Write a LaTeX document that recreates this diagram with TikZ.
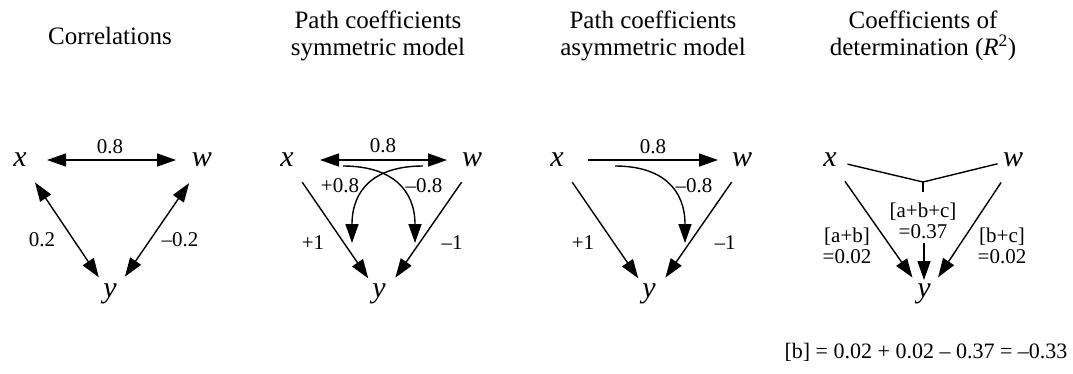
\documentclass[tikz,border=0pt]{standalone}
\usepackage{fontspec}
\setmainfont{Liberation Serif}
\usetikzlibrary{arrows.meta}
\begin{document}
\begin{tikzpicture}[x=1pt,y=-1pt,
  var/.style={font=\fontsize{30}{30}\selectfont\itshape, inner sep=0pt},
  lab/.style={font=\fontsize{21}{21}\selectfont, inner sep=0pt, align=center},
  ttl/.style={font=\fontsize{25}{27}\selectfont, align=center, inner sep=0pt},
  con/.style={line width=1.4pt},
  arr/.style={con, -{Triangle[length=19pt,width=13pt]}},
  darr/.style={con, {Triangle[length=19pt,width=13pt]}-{Triangle[length=19pt,width=13pt]}},
]
\useasboundingbox (0,0) rectangle (1073,373);

% titles
\node[ttl] (t1) at (110,36) {Correlations};
\node[ttl] (t2) at (378,36) {Path coefficients\\symmetric model};
\node[ttl] (t3) at (653,36) {Path coefficients\\asymmetric model};
\node[ttl] (t4) at (923,36) {Coefficients of\\determination (\textit{R}\textsuperscript{2})};

% panel 1
\node[var] (x1) at (20,160) {x};
\node[var] (w1) at (202,160) {w};
\node[var] (y1) at (110,294) {y};
\draw[darr, shorten <=27pt, shorten >=26pt] (x1.center) -- (w1.center);
\draw[darr, shorten <=27pt, shorten >=20pt] (x1.center) -- (y1.center);
\draw[darr, shorten <=28pt, shorten >=21pt] ([xshift=3pt]w1.center) -- ([xshift=3pt]y1.center);
\node[lab] (l1a) at (110,147) {0.8};
\node[lab] (l1b) at (42,240) {0.2};
\node[lab] (l1c) at (180,240) {–0.2};

% panel 2
\node[var] (x2) at (287,160) {x};
\node[var] (w2) at (472,160) {w};
\node[var] (y2) at (379,294) {y};
\draw[darr, shorten <=33pt, shorten >=25pt] (x2.center) -- (w2.center);
\draw[arr, shorten <=27pt, shorten >=19pt] (x2.center) -- (y2.center);
\draw[arr, shorten <=27pt, shorten >=20pt] ([xshift=5pt]w2.center) -- ([xshift=5pt]y2.center);
\coordinate (s2a) at (343,166);
\coordinate (e2a) at (415,243);
\coordinate (s2b) at (423,166);
\coordinate (e2b) at (352,243);
\draw[arr] (s2a) .. controls (392,166) and (415,190) .. (e2a);
\draw[arr] (s2b) .. controls (374,166) and (352,190) .. (e2b);
\node[lab] (l2a) at (383,146) {0.8};
\node[lab] (l2b) at (340,186) {+0.8};
\node[lab] (l2c) at (424,186) {–0.8};
\node[lab] (l2d) at (313,243) {+1};
\node[lab] (l2e) at (452,243) {–1};

% panel 3
\node[var] (x3) at (557,160) {x};
\node[var] (w3) at (742,160) {w};
\node[var] (y3) at (649,294) {y};
\draw[arr, shorten <=31pt, shorten >=24pt] (x3.center) -- (w3.center);
\draw[arr, shorten <=27pt, shorten >=19pt] (x3.center) -- (y3.center);
\draw[arr, shorten <=27pt, shorten >=20pt] ([xshift=5pt]w3.center) -- ([xshift=5pt]y3.center);
\coordinate (s3) at (615,166);
\coordinate (e3) at (685,243);
\draw[arr] (s3) .. controls (663,166) and (685,190) .. (e3);
\node[lab] (l3a) at (653,147) {0.8};
\node[lab] (l3b) at (694,186) {–0.8};
\node[lab] (l3c) at (583,243) {+1};
\node[lab] (l3d) at (725,243) {–1};

% panel 4
\node[var] (x4) at (830,160) {x};
\node[var] (w4) at (1013,160) {w};
\node[var] (y4) at (924,294) {y};
\coordinate (j4) at (923,182);
\coordinate (j5) at (923,192);
\coordinate (a4) at (924,243);
\draw[con, shorten <=18pt] (x4.center) -- (j4);
\draw[con, shorten >=16pt] (j4) -- (w4.center);
\draw[con] (j4) -- (j5);
\draw[arr, shorten >=14pt] (a4) -- (y4.center);
\draw[arr, shorten <=26pt, shorten >=20pt] (x4.center) -- (y4.center);
\draw[arr, shorten <=27pt, shorten >=20pt] ([xshift=3pt]w4.center) -- ([xshift=3pt]y4.center);
\node[lab] (l4a) at (923,221) {[a+b+c]\\=0.37};
\node[lab] (l4b) at (847,246) {[a+b]\\=0.02};
\node[lab] (l4c) at (1002,246) {[b+c]\\=0.02};
\node[lab, font=\fontsize{22}{22}\selectfont] (l4d) at (926,352) {[b] = 0.02 + 0.02 – 0.37 = –0.33};
\end{tikzpicture}
\end{document}
